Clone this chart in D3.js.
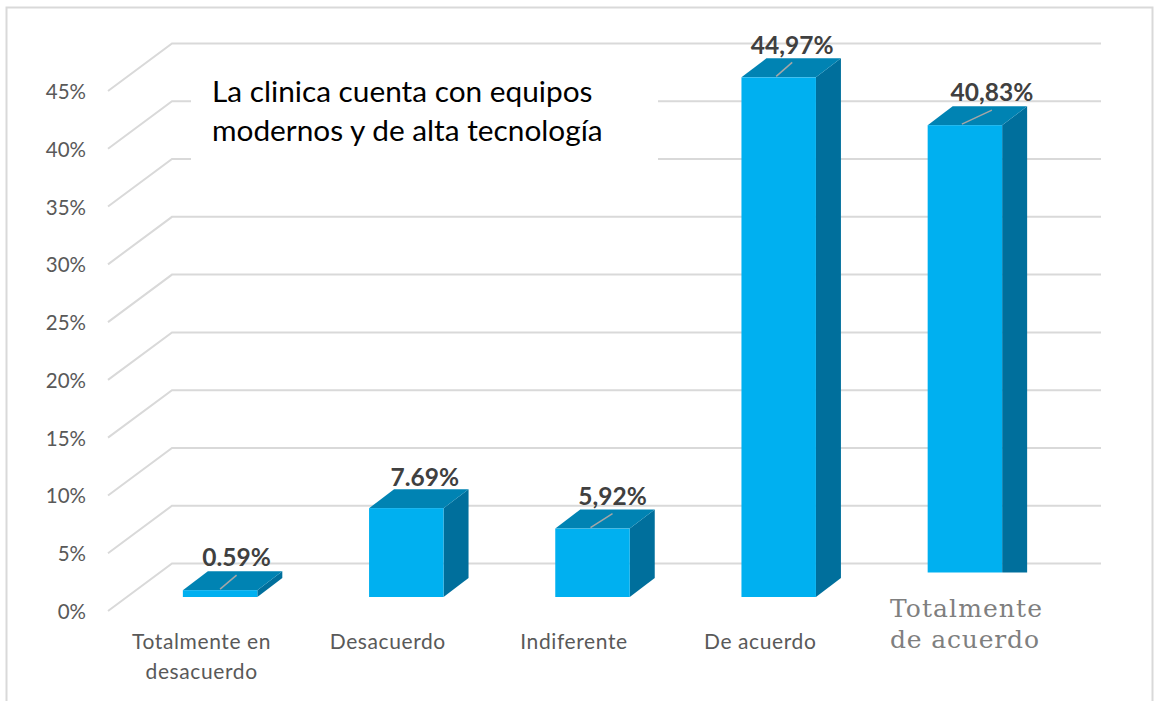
<!DOCTYPE html>
<html><head><meta charset="utf-8">
<script src="https://cdn.jsdelivr.net/npm/d3@7"></script>
<style>html,body{margin:0;padding:0;background:#fff}svg{display:block}text{font-family:Lato,"Open Sans",sans-serif}</style>
</head><body><svg id="c" width="1154" height="701"></svg>
<script>
const categories=["Totalmente en desacuerdo","Desacuerdo","Indiferente","De acuerdo","Totalmente de acuerdo"];
const values=[0.59,7.69,5.92,44.97,40.83];
const valueLabels=["0.59%","7.69%","5,92%","44,97%","40,83%"];
const ticks=[0,5,10,15,20,25,30,35,40,45];
const axisLines=[["Totalmente en","desacuerdo"],["Desacuerdo"],["Indiferente"],["De acuerdo"]];
const lastCategoryLines=["Totalmente","de acuerdo"];
const titleLines=["La clinica cuenta con equipos","modernos y de alta tecnología"];

const W=1154,H=701;
const svg=d3.select("#c");
// 3-D projection: wall depth and bar depth
const wallDX=64,wallDY=47.5,barDX=25,barDY=19;
const y=d3.scaleLinear().domain([0,45]).range([563.5,43.5]);   // on back wall
const x=d3.scaleBand().domain(categories).range([127,1058]).paddingInner(0.6).paddingOuter(0.3);
const barBase=y(0)+33.5;
const barY=v=>barBase-(y(0)-y(v));

// frame
svg.append("path").attr("d",`M6.5,${H} V7.5 H1152.5 V${H}`).attr("fill","none").attr("stroke","#d9d9d9").attr("stroke-width",2);

// grid
const gx0=172,gx1=1101;
const grid=svg.append("g").attr("fill","none").attr("stroke","#d9d9d9").attr("stroke-width",2);
grid.selectAll("path").data(ticks).join("path")
  .attr("d",t=>`M${gx0-wallDX},${y(t)+wallDY} L${gx0},${y(t)} H${gx1}`);

// white box behind title
svg.append("rect").attr("x",191).attr("y",66).attr("width",467).attr("height",110).attr("fill","#fff");

// tick labels
svg.append("g").selectAll("text").data(ticks).join("text")
  .attr("x",86).attr("y",t=>y(t)+wallDY+8).attr("text-anchor","end")
  .attr("font-size",20.5).attr("fill","#595959").text(t=>t+"%");

// bars
const bars=svg.append("g").selectAll("g").data(categories).join("g");
bars.each(function(c,i){
  const g=d3.select(this),x0=x(c),bw=x.bandwidth(),top=barY(values[i]);
  g.append("path").attr("fill","#006f9c").attr("d",`M${x0+bw},${top} l${barDX},${-barDY} V${barBase-barDY} L${x0+bw},${barBase} Z`);
  g.append("path").attr("fill","#0083b3").attr("d",`M${x0},${top} l${barDX},${-barDY} h${bw} l${-barDX},${barDY} Z`);
  g.append("rect").attr("x",x0).attr("y",top).attr("width",bw).attr("height",barBase-top).attr("fill","#00b0f0");
});

// white cover hiding the foot of the last bar, with its replacement label
const lastX=x(categories[4]);
svg.append("rect").attr("x",lastX-45).attr("y",572.5).attr("width",200).attr("height",100).attr("fill","#fff");

// leader lines + value labels: offset of label centre from bar centre
const labelDX=[16.5,18.5,20,13.5,27];
const labelUp=[33,31,33,32.5,33];
const leaderFrom=[0,null,-2,-2.5,-3];
const cx=c=>x(c)+x.bandwidth()/2;
svg.append("g").attr("stroke","#a6a6a6").attr("stroke-width",1.5).selectAll("line")
  .data(categories.filter((c,i)=>leaderFrom[i]!==null)).join("line")
  .attr("x1",c=>cx(c)+leaderFrom[categories.indexOf(c)])
  .attr("y1",c=>barY(values[categories.indexOf(c)])-1)
  .attr("x2",c=>cx(c)+labelDX[categories.indexOf(c)])
  .attr("y2",c=>barY(values[categories.indexOf(c)])-15);
svg.append("g").selectAll("text").data(categories).join("text")
  .attr("x",(c,i)=>cx(c)+labelDX[i])
  .attr("y",(c,i)=>barY(values[i])-labelUp[i]+9)
  .attr("text-anchor","middle").attr("font-size",24.5).attr("font-weight",700).attr("fill","#404040")
  .text((c,i)=>valueLabels[i]);

// category labels
const catG=svg.append("g");
axisLines.forEach((ls,i)=>{
  ls.forEach((l,j)=>catG.append("text").attr("x",cx(categories[i])-18.5).attr("y",649+j*30)
    .attr("text-anchor","middle").attr("font-size",21).attr("letter-spacing",0.6).attr("fill","#595959").text(l));
});
lastCategoryLines.forEach((l,j)=>svg.append("text").attr("x",890).attr("y",617+j*31)
  .style("font-family","'DejaVu Serif',serif").attr("font-size",25).attr("fill","#7f7f7f").attr("textLength",j?149:152).text(l));

// title
titleLines.forEach((l,j)=>svg.append("text").attr("x",212).attr("y",102+j*39)
  .attr("font-size",29.8).attr("fill","#000").text(l));
</script></body></html>
